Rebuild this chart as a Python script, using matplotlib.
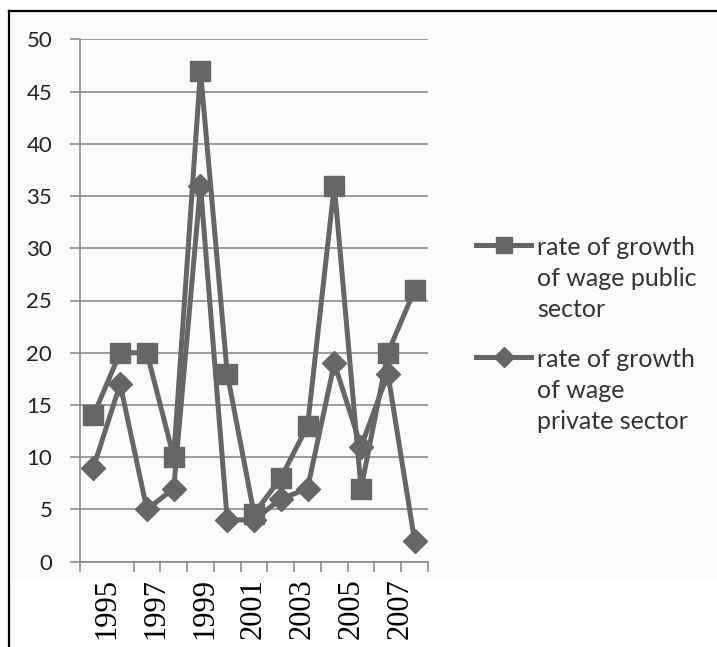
import numpy as np
import matplotlib
matplotlib.use("Agg")
import matplotlib.pyplot as plt
from matplotlib.lines import Line2D

# Data
years = [1995, 1996, 1997, 1998, 1999, 2000, 2001, 2002, 2003, 2004, 2005, 2006, 2007]
public_sector = [14, 20, 20, 10, 47, 18, 4.6, 8, 13, 36, 7, 20, 26]
private_sector = [9, 17, 5, 7, 36, 4, 4, 6, 7, 19, 11, 18, 2]
tick_years = [1995, 1997, 1999, 2001, 2003, 2005, 2007]
legend_labels = [["rate of growth", "of wage public", "sector"],
                 ["rate of growth", "of wage", "private sector"]]

LINE_COLOR = "#666666"
GRID_COLOR = "#8c8c8c"
W, H = 717, 647

fig = plt.figure(figsize=(W / 100, H / 100), dpi=100)
fig.patch.set_facecolor("white")

# chart area background and outer frame (top and left edges only)
fig.patches.append(plt.Rectangle((9 / W, 1 - 581 / H), 1, (581 - 11) / H,
                                 transform=fig.transFigure, facecolor="#fbfbfb",
                                 edgecolor="none", zorder=-2))
fig.add_artist(Line2D([9 / W, 1], [1 - 11 / H] * 2, transform=fig.transFigure,
                      color="black", lw=1.6))
fig.add_artist(Line2D([9 / W] * 2, [0, 1 - 11 / H], transform=fig.transFigure,
                      color="black", lw=1.6))

ax = fig.add_axes([80 / W, 1 - 561.7 / H, (428 - 80) / W, (561.7 - 39.3) / H])
ax.set_facecolor("none")

x = np.arange(len(years))
ax.plot(x, public_sector, color=LINE_COLOR, lw=3.6, marker="s", markersize=15,
        markerfacecolor=LINE_COLOR, markeredgecolor=LINE_COLOR, zorder=3)
ax.plot(x, private_sector, color=LINE_COLOR, lw=3.6, marker="D", markersize=12,
        markerfacecolor=LINE_COLOR, markeredgecolor=LINE_COLOR, zorder=4)

ax.set_xlim(-0.5, len(years) - 0.5)
ax.set_ylim(0, 50)
ax.set_yticks(np.arange(0, 51, 5))
ax.yaxis.grid(True, color=GRID_COLOR, lw=1.2)
ax.set_axisbelow(True)

for side in ["top", "right"]:
    ax.spines[side].set_visible(False)
for side in ["left", "bottom"]:
    ax.spines[side].set_color(GRID_COLOR)
    ax.spines[side].set_linewidth(1.2)

# category boundary ticks on x; year labels sit where the original put them
ax.set_xticks(np.arange(-0.5, len(years)), minor=True)
ax.set_xticks(np.linspace(0.5, 11.45, len(tick_years)))
ax.set_xticklabels([str(y) for y in tick_years], rotation=90,
                   family="Liberation Serif", fontsize=22)
ax.tick_params(axis="x", which="major", length=0, pad=12)
ax.tick_params(axis="x", which="minor", length=7, color=GRID_COLOR, width=1.2)
ax.tick_params(axis="y", length=7, color=GRID_COLOR, width=1.2, pad=13,
               labelsize=16, labelcolor="#222222")
for lab in ax.get_yticklabels():
    lab.set_family("Lato")

# legend drawn by hand: handle level with the first text line
markers = [("s", 11), ("D", 10)]
handle_y = [245, 357]
for (m, ms), hy, lines in zip(markers, handle_y, legend_labels):
    yy = 1 - hy / H
    fig.add_artist(Line2D([476 / W, 531 / W], [yy, yy], transform=fig.transFigure,
                          color=LINE_COLOR, lw=3.6))
    fig.add_artist(Line2D([503.5 / W], [yy], transform=fig.transFigure,
                          marker=m, markersize=ms, color=LINE_COLOR))
    for i, line in enumerate(lines):
        base = hy + 10 + 31 * i
        fig.text(537 / W, 1 - base / H, line, family="Lato", fontsize=18,
                 color="#333333", va="baseline", ha="left")

fig.savefig("out.png", dpi=100)
